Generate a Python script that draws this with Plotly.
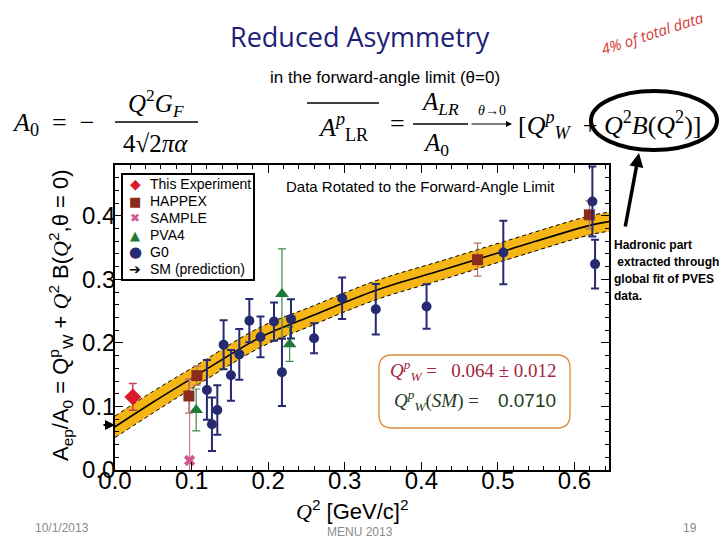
import plotly.graph_objects as go

# ---------------- data ----------------
exp_q = [0.0233]
exp_v = [0.115]
exp_e = [0.021]

happex_q = [0.0965, 0.107, 0.4734, 0.6194]
happex_v = [0.1165, 0.1485, 0.331, 0.4016]
happex_e = [0.027, 0.015, 0.026, 0.022]

sample_q = [0.0974]
sample_v = [0.015]
sample_e = [0.127]

pva4_q = [0.106, 0.218, 0.228]
pva4_v = [0.0945, 0.277, 0.198]
pva4_e = [0.033, 0.071, 0.027]

g0_q = [0.120, 0.1266, 0.1336, 0.1418, 0.1514, 0.1623, 0.1754, 0.190, 0.2076,
        0.218, 0.2298, 0.2599, 0.2965, 0.3405, 0.4068, 0.507, 0.6233, 0.6268]
g0_v = [0.126, 0.072, 0.0945, 0.197, 0.149, 0.182, 0.235, 0.2094, 0.2336,
        0.1538, 0.2378, 0.2074, 0.2703, 0.253, 0.2572, 0.3422, 0.4225, 0.324]
g0_e = [0.047, 0.042, 0.039, 0.0385, 0.040, 0.040, 0.034, 0.032, 0.030,
        0.053, 0.031, 0.0235, 0.0326, 0.0396, 0.035, 0.050, 0.055, 0.0385]

sm_q = [0.0, 0.05, 0.104, 0.19, 0.254, 0.341, 0.4285, 0.516, 0.62, 0.646]
sm_v = [0.068, 0.107, 0.147, 0.209, 0.241, 0.283, 0.315, 0.3475, 0.385, 0.391]
sm_hw = [0.017, 0.017, 0.016, 0.016, 0.015, 0.015, 0.015, 0.015, 0.015, 0.015]

qw_sm = 0.0710

x_ticks = [0.0, 0.1, 0.2, 0.3, 0.4, 0.5, 0.6]
y_ticks = [0.0, 0.1, 0.2, 0.3, 0.4]

legend_names = ['This Experiment', 'HAPPEX', 'SAMPLE', 'PVA4', 'G0', 'SM (prediction)']
legend_glyphs = ['◆', '■', '✖', '▲', '●', '➔']
legend_colors = ['#D81A2C', '#8B2B1C', '#D2578F', '#1F7A3A', '#262A70', '#000000']

# ---------------- geometry helpers (plot area in pixels) ----------------
L, R, T, B = 115, 609, 165, 470
W, H = R - L, B - T


def PX(x):
    return (x - L) / W


def PY(y):
    return (B - y) / H


fig = go.Figure()

upper = [v + h for v, h in zip(sm_v, sm_hw)]
lower = [v - h for v, h in zip(sm_v, sm_hw)]
fig.add_trace(go.Scatter(x=sm_q, y=lower, mode='lines', name='SM band low', hoverinfo='skip',
                         line=dict(color='black', width=1, dash='4px,3px', shape='spline')))
fig.add_trace(go.Scatter(x=sm_q, y=upper, mode='lines', name='SM band high', hoverinfo='skip',
                         fill='tonexty', fillcolor='#F5B515',
                         line=dict(color='black', width=1, dash='4px,3px', shape='spline')))
fig.add_trace(go.Scatter(x=sm_q, y=sm_v, mode='lines', name='SM (prediction)', hoverinfo='skip',
                         line=dict(color='black', width=1.6, shape='spline')))

fig.add_trace(go.Scatter(x=sample_q, y=sample_v, mode='markers', name='SAMPLE',
                         marker=dict(symbol='x', size=10, color='#D2578F', line=dict(width=0)),
                         error_y=dict(type='data', array=sample_e, color='#D07A98', thickness=1.2, width=4)))
fig.add_trace(go.Scatter(x=pva4_q, y=pva4_v, mode='markers', name='PVA4',
                         marker=dict(symbol='triangle-up', size=12, color='#1F7A3A'),
                         error_y=dict(type='data', array=pva4_e, color='#3C8A4C', thickness=1.2, width=4)))
fig.add_trace(go.Scatter(x=happex_q, y=happex_v, mode='markers', name='HAPPEX',
                         marker=dict(symbol='square', size=11, color='#8B2B1C'),
                         error_y=dict(type='data', array=happex_e, color='#B0706C', thickness=1.2, width=4)))
fig.add_trace(go.Scatter(x=g0_q, y=g0_v, mode='markers', name='G0',
                         marker=dict(symbol='circle', size=10, color='#262A70'),
                         error_y=dict(type='data', array=g0_e, color='#262A70', thickness=2, width=4)))
fig.add_trace(go.Scatter(x=exp_q, y=exp_v, mode='markers', name='This Experiment',
                         marker=dict(symbol='diamond', size=13, color='#D81A2C'),
                         error_y=dict(type='data', array=exp_e, color='#C8404F', thickness=1.5, width=4)))

axis_common = dict(showline=True, linecolor='black', linewidth=1.5, mirror='ticks',
                   ticks='inside', ticklen=8, tickwidth=1.3, tickcolor='black',
                   showgrid=False, zeroline=False, tickformat='.1f', automargin=False,
                   tickfont=dict(family='Liberation Sans, Arial', size=24, color='black'),
                   minor=dict(ticks='inside', ticklen=4, tickwidth=1, tickcolor='black', dtick=0.02))

fig.update_layout(
    width=720, height=540,
    margin=dict(l=L, r=720 - R, t=T, b=540 - B, autoexpand=False),
    paper_bgcolor='white', plot_bgcolor='white',
    xaxis=dict(range=[0, 0.645], tickvals=x_ticks, ticklabelstandoff=-12, **axis_common),
    yaxis=dict(range=[0, 0.48], tickvals=y_ticks, ticklabelstandoff=-7, **axis_common),
    showlegend=False,
)

serif = 'Liberation Serif, DejaVu Serif, serif'
sans = 'Liberation Sans, Arial, sans-serif'
narrow = 'Liberation Sans Narrow, Arial Narrow, sans-serif'
ann = []


def txt(x, y, text, size, color='black', family=sans, xanchor='center', yanchor='middle', angle=0):
    ann.append(dict(x=PX(x), y=PY(y), xref='paper', yref='paper', text=text, showarrow=False,
                    xanchor=xanchor, yanchor=yanchor, textangle=angle,
                    font=dict(family=family, size=size, color=color)))


shapes = []

# Manual legend (box, glyphs, labels)
shapes.append(dict(type='rect', xref='paper', yref='paper', x0=PX(122), x1=PX(254), y0=PY(280), y1=PY(174),
                   line=dict(color='black', width=2), fillcolor='white', layer='above'))
leg_y = [184, 201, 218, 235, 252, 269]
glyph_sizes = [14, 13, 12, 13, 15, 14]
for yy, name, g, c, gs in zip(leg_y, legend_names, legend_glyphs, legend_colors, glyph_sizes):
    txt(135, yy, g, gs, c, 'DejaVu Sans, sans-serif')
    txt(148, yy, name, 14, 'black', sans, xanchor='left')

# Slide texts
txt(360, 37, 'Reduced Asymmetry', 27, '#1E1E78', 'Open Sans, Noto Sans, sans-serif')
txt(652, 33, '<i>4% of total data</i>', 15, '#D33A3A', 'Open Sans, sans-serif', angle=-18)
txt(385, 77, 'in the forward-angle limit (θ=0)', 17, 'black', narrow)

# Left equation
txt(10, 124, '<i>A</i><sub>0</sub>&nbsp; = &nbsp;−', 26, 'black', serif, xanchor='left')
txt(156, 103, '<i>Q</i><sup>2</sup><i>G</i><sub><i>F</i></sub>', 25, 'black', serif)
txt(155, 143, '4√2<i>πα</i>', 25, 'black', serif)

# Middle equation
txt(343, 127, '<i>A</i><sup><i>p</i></sup><sub>LR</sub>', 26, 'black', serif)
txt(397, 124, '=', 26, 'black', serif)
txt(440, 103, '<i>A</i><sub><i>LR</i></sub>', 25, 'black', serif)
txt(436, 145, '<i>A</i><sub>0</sub>', 25, 'black', serif)
txt(492, 110, '<i>θ</i>→0', 14, 'black', serif)
txt(516, 125, '[<i>Q</i><sup><i>p</i></sup><sub><i>W</i></sub>&nbsp;&nbsp;+&nbsp;<i>Q</i><sup>2</sup><i>B</i>(<i>Q</i><sup>2</sup>)]',
    26, 'black', serif, xanchor='left')

# Hadronic note
for yy, line in zip([245, 262, 279, 296],
                    ['Hadronic part', ' extracted through', 'global fit of PVES', 'data.']):
    txt(612, yy, '<b>' + line + '</b>', 12, 'black', narrow, xanchor='left')

# Plot texts
txt(420, 186, 'Data Rotated to the Forward-Angle Limit', 15, 'black', sans)
txt(388, 370, '<i>Q</i><sup><i>p</i></sup><sub><i>W</i></sub> =   0.064 ± 0.012', 19, '#A3263C', serif,
    xanchor='left')
txt(392, 400, '<i>Q</i><sup><i>p</i></sup><sub><i>W</i></sub>(<i>SM</i>) =    '
    '<span style="font-family:Liberation Sans">0.0710</span>', 19, '#1F3A22', serif, xanchor='left')

# Axis titles
txt(352, 510, '<span style="font-family:Liberation Serif"><i>Q</i></span><sup>2</sup> [GeV/c]<sup>2</sup>',
    22, 'black', sans)
txt(60, 315, 'A<sub>ep</sub>/A<sub>0</sub> = Q<sup>p</sup><sub>W</sub> + '
    '<span style="font-family:Liberation Serif"><i>Q</i></span><sup>2</sup> B(<span style="font-family:Liberation Serif"><i>Q</i></span><sup>2</sup>,θ = 0)',
    22, 'black', sans, angle=-90)

# Footer
txt(62, 528, '10/1/2013', 12, '#8A8A8A', sans)
txt(360, 532, 'MENU 2013', 12, '#8A8A8A', sans)
txt(690, 528, '19', 12, '#8A8A8A', sans)

# Arrows
ann.append(dict(x=0, y=qw_sm, xref='x', yref='y', ax=-13, ay=0, text='', showarrow=True,
                arrowhead=2, arrowsize=1, arrowwidth=2, arrowcolor='black'))
ann.append(dict(x=PX(639), y=PY(153), xref='paper', yref='paper', ax=-14, ay=75, text='',
                showarrow=True, arrowhead=2, arrowsize=0.8, arrowwidth=3.5, arrowcolor='black'))
ann.append(dict(x=PX(512), y=PY(124), xref='paper', yref='paper', ax=-42, ay=0, text='',
                showarrow=True, arrowhead=2, arrowsize=1, arrowwidth=1.2, arrowcolor='black'))
fig.update_layout(annotations=ann)


def pline(x0, y0, x1, y1, w=1.5):
    shapes.append(dict(type='line', xref='paper', yref='paper', x0=PX(x0), y0=PY(y0), x1=PX(x1), y1=PY(y1),
                       line=dict(color='black', width=w)))


pline(115, 122, 198, 122)
pline(307, 103, 379, 103)
pline(413, 124, 468, 124)

# Ellipse around the hadronic term
shapes.append(dict(type='circle', xref='paper', yref='paper', x0=PX(591), x1=PX(717), y0=PY(150), y1=PY(91),
                   line=dict(color='black', width=4)))

# Rounded result box
bx0, bx1, by0, by1, r = 379, 570, 355, 428, 13


def P(x, y):
    return f'{PX(x):.5f},{PY(y):.5f}'


path = (f'M {P(bx0 + r, by0)} L {P(bx1 - r, by0)} Q {P(bx1, by0)} {P(bx1, by0 + r)} '
        f'L {P(bx1, by1 - r)} Q {P(bx1, by1)} {P(bx1 - r, by1)} L {P(bx0 + r, by1)} '
        f'Q {P(bx0, by1)} {P(bx0, by1 - r)} L {P(bx0, by0 + r)} Q {P(bx0, by0)} {P(bx0 + r, by0)} Z')
shapes.append(dict(type='path', xref='paper', yref='paper', path=path,
                   line=dict(color='#D98A3A', width=1.3), fillcolor='rgba(0,0,0,0)'))

fig.update_layout(shapes=shapes)

fig.write_html('out.html', config={'displayModeBar': False},
               post_script="document.body.style.margin='0px';document.body.style.overflow='hidden';")
